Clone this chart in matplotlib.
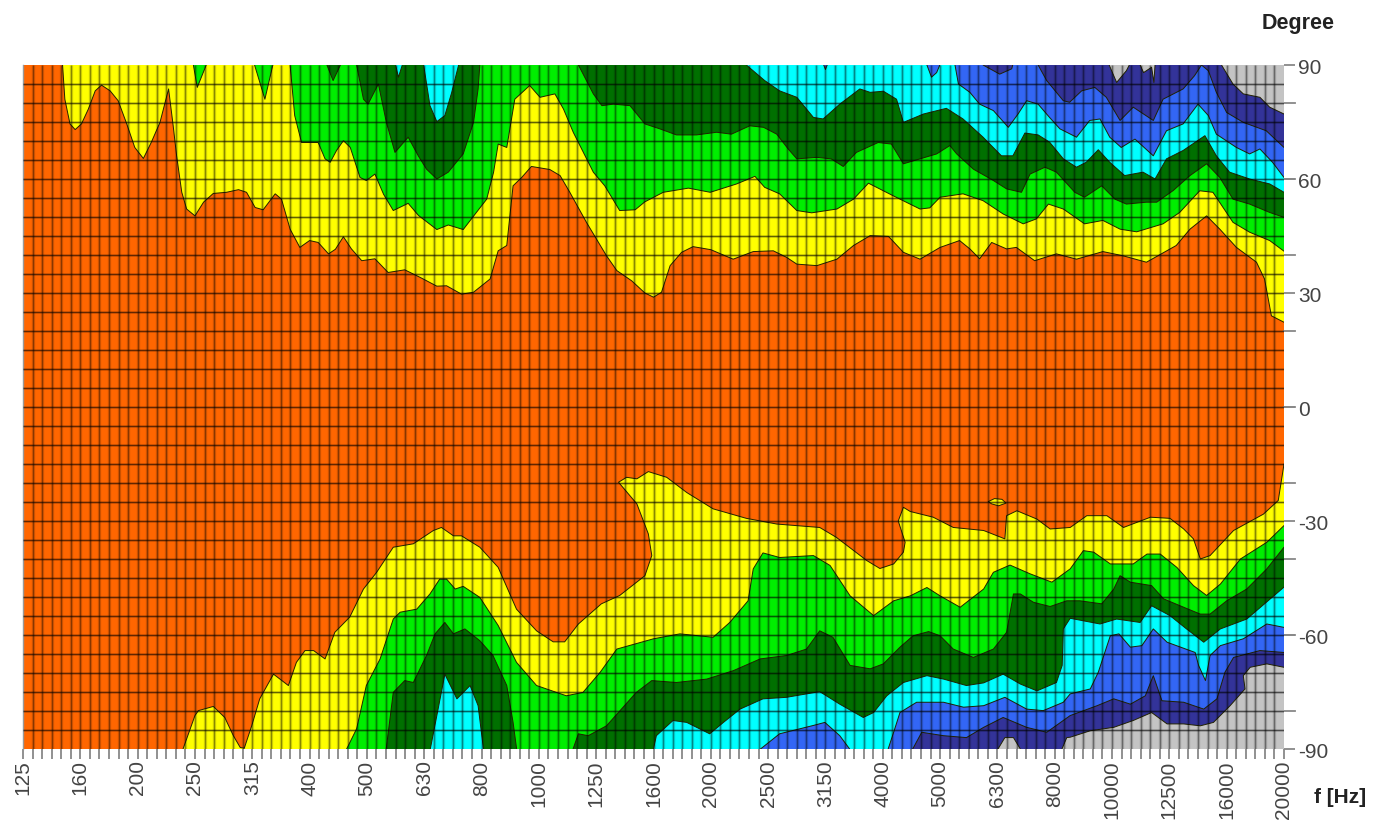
import matplotlib
matplotlib.use("Agg")
import matplotlib.pyplot as plt

# x is position on the third-octave band axis (0 = 125 Hz, 22 = 20000 Hz); y is degrees
freq_labels = ["125","160","200","250","315","400","500","630","800","1000","1250","1600",
               "2000","2500","3150","4000","5000","6300","8000","10000","12500","16000","20000"]
degree_labels = ["90","60","30","0","-30","-60","-90"]
degree_ticks = [90,60,30,0,-30,-60,-90]

# ---- upper contours (region above each curve takes the colour)
top_yellow_x = [0.69,0.73,0.82,0.91,1.02,1.14,1.26,1.37,1.52,1.66,1.81,1.95,2.10,2.24,2.39,2.54,2.62,2.68,2.77,2.855,3.0,3.15,3.32,3.55,3.76,3.9,4.05,4.19,4.4,4.51,4.66,4.83,5.0,5.15,5.33,5.45,5.59,5.73,5.91,6.14,6.37,6.66,6.93,7.22,7.39,7.65,7.86,8.15,8.29,8.44,8.55,8.7,8.87,9.19,9.37,9.54,9.83,10.18,10.36,10.62,10.85,11.0,11.14,11.29,11.49,11.69,12.0,12.39,12.74,13.09,13.32,13.5,13.85,14.2,14.49,14.78,15.1,15.36,15.65,16.0,16.34,16.52,16.69,16.9,17.16,17.33,17.65,18.03,18.38,18.84,19.19,19.6,20.12,20.36,20.65,20.88,21.17,21.52,21.66,21.78,22.0]
top_yellow_y = [90,81,74.5,73,74.5,78.4,83.2,84.7,83.2,80.6,74.5,68.3,65.4,69.7,74.9,83.7,74,66.1,56.5,52.1,50.3,53.9,56.2,56.5,57.2,56.5,52.5,51.9,56.1,54.7,46.8,42,43.8,43.3,40.3,41.5,44.8,41.6,38.5,39,35.4,36.1,34.1,31.8,31.9,29.7,30.2,33.7,41.1,42.5,58.2,60.4,63.3,62.5,60.9,56.5,48.6,39.8,35.9,33.2,30,28.9,30.2,37.2,40.7,42.2,41.4,38.9,40.9,41.1,39.4,37.6,37.2,38.9,42.5,45.1,44.9,40.7,38.9,42,43.8,41.6,39,43.3,41.6,42,38.5,40.3,38.9,40.9,39.8,38.1,42.5,46.8,50.3,46.8,42,38.1,33.7,24,22.3]

top_lime_x = [2.95,3.04,3.25,4.0,4.22,4.39,4.64,4.66,4.74,4.86,5.03,5.15,5.27,5.36,5.47,5.59,5.71,5.88,5.99,6.14,6.29,6.46,6.72,6.9,7.22,7.42,7.68,7.91,8.09,8.21,8.29,8.44,8.58,8.84,9.02,9.28,9.43,9.6,9.95,10.15,10.41,10.68,10.85,11.17,11.61,11.99,12.45,12.77,12.94,13.2,13.5,13.76,14.2,14.49,14.75,15.18,15.65,15.82,16.0,16.4,16.75,17.1,17.45,17.68,17.89,18.15,18.52,18.84,19.14,19.43,19.89,20.18,20.53,20.76,21.11,21.4,21.75,22.0]
top_lime_y = [92,84.1,92,92,81,92,92,90,76.7,69.6,69.6,69.6,65.3,64.4,67.5,70.1,68.3,60.4,59.6,61.3,56,51.7,53.6,50.4,46.7,47.9,46.7,51.2,54.7,61.8,69.2,68.3,81,84.6,81.5,82.4,78.4,72.3,61.8,58.2,51.7,51.9,54,56.5,57.6,56.5,58.7,60.7,57.8,56.1,51.7,51.1,52.1,54.7,58.9,55.6,52.1,52.4,55.2,56.1,54.3,50.8,48.2,49.5,53.4,52.1,48.2,49.1,46.8,46.1,48.2,51.2,56.9,56.5,48.6,46,43.8,41]

top_dark_x = [5.25,5.41,5.6,5.8,5.82,5.94,6.02,6.2,6.34,6.49,6.72,6.9,7.04,7.22,7.42,7.68,7.86,7.94,7.97,8.0,9.67,9.69,9.95,10.1,10.3,10.59,10.85,11.11,11.4,11.75,12.1,12.36,12.68,12.92,13.15,13.35,13.5,13.85,14.1,14.31,14.54,14.92,15.15,15.36,15.65,15.94,16.17,16.29,16.58,16.93,17.16,17.42,17.57,17.83,18.03,18.35,18.52,18.82,19.05,19.25,19.6,19.78,20.07,20.36,20.65,20.88,21.11,21.4,21.75,22.0]
top_dark_y = [92,85.9,92,92,90,81,79.7,85,74.9,67,71,66,62.6,60,61.8,66.6,74.9,83.7,90,92,92,90,82.4,79.3,79.7,79.3,74.5,73.2,71.6,71.6,72.3,71.8,74,73.6,71.8,67.9,65.3,65.7,65.3,63.3,67,69.6,69.2,64,65.3,66.6,68.8,66.6,62.6,59.6,57.4,56.5,61.3,63.1,61.8,56.5,55.2,58.2,54.7,53.4,53.9,53.9,57,60.9,64,60.4,54.7,53.4,51.2,49.9]

top_cyan_x = [6.47,6.55,6.66,6.97,6.99,7.1,7.22,7.36,7.48,7.6,7.62,12.6,12.62,12.94,13.2,13.5,13.79,13.96,14.25,14.6,14.78,15.01,15.24,15.36,15.71,16.11,16.4,16.75,17.07,17.27,17.48,17.71,17.91,18.15,18.38,18.55,18.76,18.96,19.22,19.54,19.75,19.95,20.24,20.62,20.82,21.05,21.4,21.75,22.0]
top_cyan_y = [92,86.8,92,92,90,79.3,75.1,76.7,82.8,90,92,92,90,85.9,83.2,81.5,76.2,75.8,79.7,83.7,82.8,83.1,81,74.9,77.1,78.6,75.8,71,66.1,66.1,72.1,71.6,69.7,65.3,63.1,64.4,67.7,64.4,60.9,61.8,60,65.3,67.5,71.4,66.1,61.8,60,58.7,56.5]

top_blue_x = [13.92,14.0,14.08,15.72,15.85,15.94,16.05,16.24,16.26,16.32,16.52,16.69,16.93,17.19,17.36,17.51,17.71,17.91,18.09,18.38,18.61,18.79,18.96,19.16,19.4,19.72,19.95,20.24,20.5,20.68,20.82,21.17,21.4,21.58,21.8,22.0]
top_blue_y = [92,88.8,92,92,86.8,88,92,92,90,85,82.8,79.7,78,73.6,77.1,80.6,79.7,76.2,73.2,71,75.4,75.8,71,68.3,70.5,66.1,72.7,74.5,79.7,76.7,71.8,68.3,66.6,67.9,64.4,60.4]

top_navy_x = [16.73,16.75,17.04,17.25,17.3,17.69,17.71,17.86,18.15,18.26,18.47,18.7,18.9,19.14,19.37,19.72,19.89,20.24,20.44,20.56,20.68,20.82,21.0,21.29,21.69,22.0]
top_navy_y = [92,90,87.6,89,92,92,90,85.9,80.6,80.2,83.2,84.1,81.5,75.4,78.9,75.4,81,83.7,87.2,90,88.5,82.8,77.5,74.9,72.7,68.3]

top_grey_x = [18.93,18.95,19.08,19.25,19.37,19.43,19.55,19.69,19.73,19.75,19.77,20.89,20.91,21.11,21.29,21.58,21.75,22.0]
top_grey_y = [92,90,85.4,88.5,92,92,88,89.4,85.4,90,92,92,90,85,82.4,81.5,78.9,77.1]

# ---- lower contours (region below each curve takes the colour)
bot_yellow_x = [2.78,3.0,3.06,3.32,3.52,3.67,3.79,3.86,3.99,4.13,4.37,4.63,4.77,4.92,5.07,5.27,5.44,5.7,5.94,6.17,6.46,6.81,7.16,7.3,7.51,7.65,7.97,8.29,8.61,8.96,9.25,9.45,9.69,10.09,10.41,10.85,10.97,10.91,10.71,10.39,10.53,10.71,10.91,11.23,11.58,12.04,12.62,13.15,13.9,14.19,14.72,14.95,15.19,15.36,15.39,15.27,15.36,15.48,15.88,16.23,16.76,17.13,17.16,17.34,17.69,17.92,18.27,18.56,18.91,19.2,19.67,20.01,20.25,20.42,20.54,20.71,21.12,21.64,21.9,22.0]
bot_yellow_y = [-90.5,-81.2,-79.9,-78.8,-81.7,-86.5,-89.6,-89.8,-83.9,-76.8,-70.3,-73.3,-67.2,-64.1,-64.1,-66.3,-59.3,-55.3,-47.9,-43.5,-36.9,-36,-32.5,-31.7,-33.9,-33.9,-36.9,-42.2,-53.2,-58.9,-61.8,-61.8,-57.1,-51.8,-49.6,-44.4,-39.1,-33.4,-25.5,-19.8,-18.5,-18.9,-17,-18.5,-22.5,-26.8,-29.3,-30.8,-31.7,-34.3,-40.4,-42.5,-41.3,-38.2,-35.6,-30,-26.4,-27.5,-29,-31.7,-32.5,-34.7,-28.6,-27.3,-29.5,-32.1,-31.7,-28.6,-28.6,-31.7,-29,-29.3,-32.1,-34.7,-40,-39.1,-32.5,-28.2,-24.6,-15]

islet_x = [16.84,16.95,17.08,17.15,17.02,16.9]
islet_y = [-24.9,-24.1,-24.3,-25.3,-26,-25.5]

bot_lime_x = [5.63,5.82,5.99,6.23,6.46,6.58,6.87,7.1,7.27,7.39,7.54,7.68,7.97,8.29,8.61,8.96,9.48,9.77,10.07,10.36,11.0,11.46,12.04,12.33,12.65,12.74,12.91,13.2,13.79,14.08,14.43,14.84,15.19,15.48,15.77,16.0,16.35,16.76,16.93,17.22,17.57,17.95,18.27,18.5,18.68,18.97,19.37,19.61,19.84,20.13,20.42,20.65,20.89,21.24,21.7,22.0]
bot_lime_y = [-90.5,-84.7,-73.3,-66.3,-55.8,-54,-53.2,-49.2,-45.3,-45.3,-47.9,-47.2,-50.1,-57.5,-67.2,-73.3,-76,-75.1,-69.8,-63.7,-61,-59.7,-60.6,-56.7,-51,-42.6,-38.4,-39.6,-39.1,-41.7,-49.7,-54.9,-51,-49.7,-47.5,-49.7,-52.7,-47.9,-43.5,-41.6,-43.9,-46.1,-42.6,-37.8,-38.2,-41.3,-41.3,-38.7,-38.7,-42.2,-47,-49.6,-46.6,-40,-35.6,-31.2]

bot_dark_x = [6.32,6.46,6.66,6.81,7.04,7.19,7.36,7.51,7.71,7.97,8.2,8.44,8.55,8.63,9.55,9.69,9.86,10.18,10.47,10.7,10.97,11.4,11.93,12.39,12.86,13.32,13.67,13.9,14.13,14.43,14.78,15.01,15.3,15.53,15.8,16.0,16.23,16.58,16.93,17.16,17.28,17.4,17.63,17.92,18.21,18.44,18.82,19.03,19.14,19.32,19.69,19.9,20.25,20.54,20.71,21.0,21.35,21.7,22.0]
bot_dark_y = [-92,-75.1,-72,-72.5,-65.4,-59.7,-56.7,-59.7,-58.4,-61.5,-65.4,-73.3,-83,-92,-92,-86,-86.5,-83.9,-79,-75.1,-72,-72.5,-71.6,-69.4,-66.3,-65.4,-63.7,-58.9,-60.6,-68,-68.9,-67.6,-63.2,-60.2,-59.1,-60.2,-63.7,-65.9,-63.7,-59.3,-49.2,-49.2,-51.4,-52.5,-51,-51,-51.8,-47.9,-44.4,-46.1,-47,-50.5,-52.7,-54.5,-54.5,-51,-47.9,-42.6,-36.9]

bot_cyan_x = [7.08,7.22,7.36,7.57,7.8,7.94,8.05,10.97,11.05,11.34,11.58,11.98,12.22,12.51,12.91,13.32,13.9,14.25,14.66,14.84,15.07,15.36,15.77,16.06,16.46,16.76,17.1,17.4,17.69,18.03,18.13,18.15,18.27,18.79,19.08,19.49,19.69,20.01,20.3,20.6,20.89,21.35,22.0]
bot_cyan_y = [-92,-81.2,-70.3,-76.8,-73.3,-78.6,-92,-92,-86.5,-82.5,-83,-86,-83,-79.5,-76.8,-76.4,-74.9,-78.2,-81.7,-80.4,-76,-72.5,-70.7,-71.6,-73.3,-72.6,-70.3,-72.9,-74.7,-72.5,-68,-58.4,-55.6,-57.1,-55.8,-56.7,-52.3,-54.9,-58.4,-61.9,-58.4,-55.8,-47.4]

bot_blue_x = [12.7,13.2,13.79,13.99,14.25,14.52,15.05,15.19,15.3,15.59,16.06,16.41,16.76,17.13,17.51,17.8,18.15,18.27,18.62,18.76,18.97,19.12,19.32,19.52,19.72,19.96,20.45,20.51,20.63,20.71,20.89,21.29,21.7,22.0]
bot_blue_y = [-92,-86,-83.8,-83,-86.5,-92,-92,-85.6,-80.4,-77.7,-77.7,-79,-78.6,-76.4,-79.5,-79.9,-77.7,-75.5,-74.2,-69.8,-60.2,-59.7,-63.2,-62.8,-58.4,-61.9,-64.6,-68,-72,-65.4,-62.8,-61,-57.1,-58]

bot_navy_x = [15.45,15.68,16.06,16.46,16.76,17.1,17.51,17.86,18.27,18.74,19.03,19.32,19.58,19.72,19.87,20.25,20.6,20.83,20.97,21.12,21.58,22.0]
bot_navy_y = [-92,-85.6,-86.5,-87,-84.3,-81.7,-84.3,-85.6,-81.2,-78.6,-76.8,-78.2,-76,-70.7,-77.3,-77.7,-79.5,-76.8,-69.8,-65.9,-64.1,-64.6]

bot_grey_x = [16.93,17.13,17.28,17.48,18.07,18.21,18.27,18.62,19.03,19.37,19.69,19.96,20.25,20.54,20.77,21.06,21.32,21.29,21.41,21.7,22.0]
bot_grey_y = [-92,-87,-87,-92,-92,-87,-86.9,-85.2,-84.3,-82.5,-80.4,-83.4,-83.4,-83.9,-83,-78.6,-74.2,-70.7,-68.5,-67.6,-68.5]

ORANGE, YELLOW, LIME, DARK, CYAN, BLUE, NAVY, GREY = (
    "#FF6600", "#FFFF00", "#00EE00", "#007000", "#00FFFF", "#3366F5", "#333399", "#C4C4C4")

plt.rcParams["font.family"] = ["Liberation Sans", "DejaVu Sans"]
W, H = 1384, 828
L, R, T, B = 23, 1284, 66, 750
fig = plt.figure(figsize=(W/100, H/100), dpi=100, facecolor="white")
ax = fig.add_axes([L/W, 1-B/H, (R-L)/W, (B-T)/H])
ax.set_facecolor(ORANGE)
ax.set_xlim(0, 22)
ax.set_ylim(-90, 90)

EDGE = dict(edgecolor="#222200", linewidth=0.7, joinstyle="round", zorder=2)

def fill_top(x, y, c):
    ax.fill(list(x)+[x[-1]+1, x[-1]+1, x[0]], list(y)+[y[-1], 120, 120], facecolor=c, **EDGE)

def fill_bot(x, y, c):
    ax.fill(list(x)+[x[-1]+1, x[-1]+1, x[0]], list(y)+[y[-1], -120, -120], facecolor=c, **EDGE)

for x, y, c in [(top_yellow_x, top_yellow_y, YELLOW), (top_lime_x, top_lime_y, LIME),
                (top_dark_x, top_dark_y, DARK), (top_cyan_x, top_cyan_y, CYAN),
                (top_blue_x, top_blue_y, BLUE), (top_navy_x, top_navy_y, NAVY),
                (top_grey_x, top_grey_y, GREY)]:
    fill_top(x, y, c)
for x, y, c in [(bot_yellow_x, bot_yellow_y, YELLOW), (bot_lime_x, bot_lime_y, LIME),
                (bot_dark_x, bot_dark_y, DARK), (bot_cyan_x, bot_cyan_y, CYAN),
                (bot_blue_x, bot_blue_y, BLUE), (bot_navy_x, bot_navy_y, NAVY),
                (bot_grey_x, bot_grey_y, GREY)]:
    fill_bot(x, y, c)
ax.fill(islet_x, islet_y, facecolor=YELLOW, **EDGE)

# grid: six cells per band, 5 degree rows; two layers give the soft, blurred look
cols = [i/6 for i in range(1, 132)]
rows = list(range(-85, 90, 5))
ax.vlines(cols, -90, 90, color="#000000", alpha=0.16, linewidth=2.4, zorder=3)
ax.vlines(cols, -90, 90, color="#000000", alpha=0.36, linewidth=0.9, zorder=3)
ax.hlines(rows, 0, 22, color="#000000", alpha=0.15, linewidth=2.0, zorder=3)
ax.hlines(rows, 0, 22, color="#000000", alpha=0.55, linewidth=0.9, zorder=3)

ax.set_xticks([i/6 for i in range(0, 133)], minor=True)
ax.set_xticks(range(23))
ax.set_xticklabels(freq_labels, rotation=90, fontsize=15, color="#444444")
ax.set_yticks(degree_ticks)
ax.set_yticklabels(degree_labels, fontsize=15, color="#444444")
ax.yaxis.tick_right()
ax.tick_params(axis="x", which="both", length=7.5, width=1.3, color="#888888", pad=0)
ax.tick_params(axis="y", which="major", length=8, width=1.3, color="#888888", pad=2)
for d in range(-80, 90, 20):
    ax.plot([1, 1.0085], [d, d], transform=ax.get_yaxis_transform(), color="#888888",
            lw=1.3, clip_on=False, zorder=1)

for s in ["top", "bottom", "right"]:
    ax.spines[s].set_visible(False)
ax.spines["left"].set_color("#999999")
ax.spines["left"].set_linewidth(1.0)

fig.text(1298/W, 1-23/H, "Degree", fontsize=15.5, fontweight="bold", ha="center", va="center", color="#222222")
fig.text(1340/W, 1-798/H, "f [Hz]", fontsize=15, fontweight="bold", ha="center", va="center", color="#222222")

fig.savefig("out.png", dpi=100, facecolor="white")
